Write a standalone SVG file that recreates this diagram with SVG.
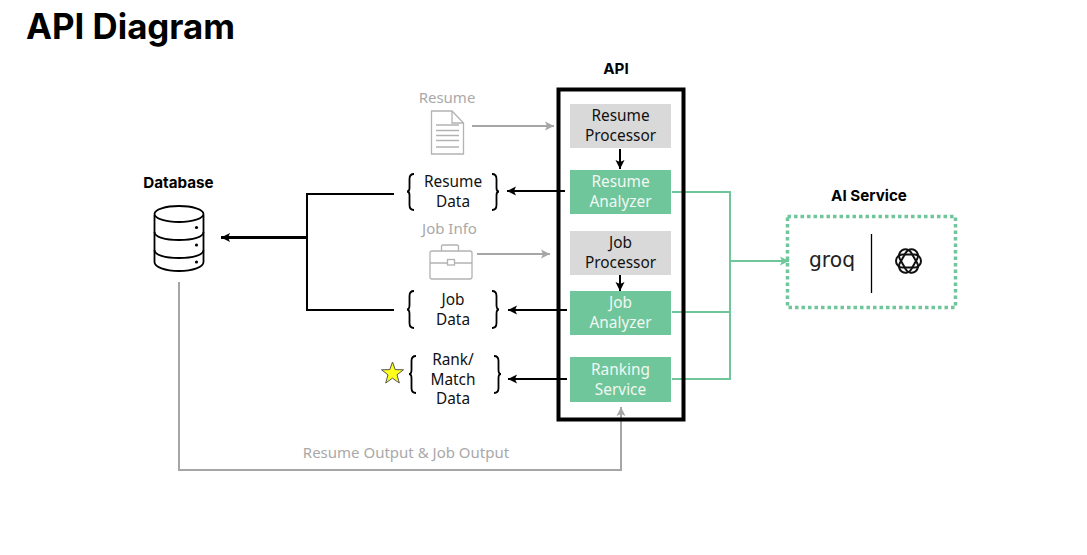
<svg xmlns="http://www.w3.org/2000/svg" width="1087" height="555" viewBox="0 0 1087 555">
<style>
text{font-family:"Noto Sans","Liberation Sans",sans-serif;font-size:15.4px;text-anchor:middle;fill:#111}
.h{font-weight:700;font-size:15.2px;fill:#000;font-family:Inter,"Liberation Sans",sans-serif}
.w{fill:#f2f7f3}.g{fill:#a9a9a9;font-size:15px}
.gray{fill:#d9d9d9}.green{fill:#6fc69a}
.k{stroke:#000;fill:none;stroke-width:2}
.gl{stroke:#a6a6a6;fill:none;stroke-width:2}
.gn{stroke:#6fc69a;fill:none;stroke-width:2}
.ic{stroke:#b3b3b3;fill:#fff;stroke-width:1.3}
.br{stroke:#000;fill:none;stroke-width:1.8}
</style>
<defs>
<marker id="ak" markerUnits="userSpaceOnUse" markerWidth="10" markerHeight="10" refX="9" refY="5" orient="auto"><path d="M0 0.500L9 5L0 9.500L2 5Z" fill="#000"/></marker>
<marker id="ag" markerUnits="userSpaceOnUse" markerWidth="10" markerHeight="10" refX="9" refY="5" orient="auto"><path d="M0 0.500L9 5L0 9.500L2 5Z" fill="#a6a6a6"/></marker>
<marker id="an" markerUnits="userSpaceOnUse" markerWidth="10" markerHeight="10" refX="9" refY="5" orient="auto"><path d="M0 0.500L9 5L0 9.500L2 5Z" fill="#6fc69a"/></marker>
</defs>
<rect width="1087" height="555" fill="#fff"/>
<text x="130.500" y="39" style="font-family:Inter,'Liberation Sans',sans-serif;font-weight:700;font-size:34.800px;fill:#000">API Diagram</text>

<g id="connectors">
<path class="k" d="M394 194H307V310H394"/>
<path class="k" d="M307 237.500H221" style="stroke-width:3" marker-end="url(#ak)"/>
<path class="gl" d="M179 282V470H621V407" marker-end="url(#ag)"/>
<path class="gl" d="M472 126H554" marker-end="url(#ag)"/>
<path class="gl" d="M477 254H550" marker-end="url(#ag)"/>
<path class="k" d="M620 149V169" marker-end="url(#ak)"/>
<path class="k" d="M620 272V291" marker-end="url(#ak)"/>
<path class="k" d="M565 191H507" marker-end="url(#ak)"/>
<path class="k" d="M567 310H508" marker-end="url(#ak)"/>
<path class="k" d="M567 379H508" marker-end="url(#ak)"/>
<path class="gn" d="M672 192H730V379H672M672 312H730M730 261H789" marker-end="url(#an)"/>
</g>

<g id="database">
<text class="h" x="178.500" y="188">Database</text>
<path d="M154.500 215V262C154.500 267 165 271 179 271S203.500 267 203.500 262V215" fill="#fff" stroke="#000" stroke-width="1.800"/>
<ellipse cx="179" cy="214" rx="24.500" ry="8" fill="#fff" stroke="#000" stroke-width="1.800"/>
<path class="br" d="M154.500 232C154.500 237 165 240 179 240S203.500 237 203.500 232M154.500 250C154.500 255 165 258 179 258S203.500 255 203.500 250"/>
<circle cx="196.500" cy="227.500" r="1.600"/><circle cx="196.500" cy="245" r="1.600"/><circle cx="196.500" cy="262" r="1.600"/>
</g>

<g id="resume-input">
<text class="g" x="447" y="103">Resume</text>
<path class="ic" d="M431.500 111H452L463.500 123V154H431.500Z"/>
<path class="ic" d="M452 111V123H463.500M436 125H459M436 130.500H459M436 135.500H459M436 140.500H459M436 147H459" style="fill:none"/>
</g>

<g id="job-input">
<text class="g" x="449.500" y="234">Job Info</text>
<path class="ic" d="M432 251H470Q472 251 472 253V277Q472 279 470 279H432Q430 279 430 277V253Q430 251 432 251ZM430 263H447M455 263H472M441.500 251V246Q441.500 245 443 245H457Q458.500 245 458.500 246V251"/>
<rect class="ic" x="447.500" y="259.500" width="7" height="5.500"/>
</g>

<g id="resume-data">
<path class="br" d="M414 174Q409.500 174 409.500 179V188Q409.500 191.500 407 191.500Q409.500 191.500 409.500 195V205Q409.500 210 414 210M492 174Q496.500 174 496.500 179V188Q496.500 191.500 499 191.500Q496.500 191.500 496.500 195V205Q496.500 210 492 210"/>
<text x="453" y="187">Resume</text><text x="453" y="207">Data</text>
</g>
<g id="job-data">
<path class="br" d="M414 291Q409.500 291 409.500 296V305Q409.500 309.500 407 309.500Q409.500 309.500 409.500 314V323Q409.500 328 414 328M492 291Q496.500 291 496.500 296V305Q496.500 309.500 499 309.500Q496.500 309.500 496.500 314V323Q496.500 328 492 328"/>
<text x="453" y="305">Job</text><text x="453" y="325">Data</text>
</g>
<g id="rank-data">
<polygon points="392.500,362 395.200,369.600 403.500,369.800 397,374.800 399.300,383 392.500,378.200 385.700,383 388,374.800 381.500,369.800 389.800,369.600" fill="#ffff1a" stroke="#555" stroke-width="1"/>
<path class="br" d="M416 356Q411.500 356 411.500 361V370Q411.500 374 409 374Q411.500 374 411.500 378V388Q411.500 393 416 393M494 356Q498.500 356 498.500 361V370Q498.500 374 501 374Q498.500 374 498.500 378V388Q498.500 393 494 393"/>
<text x="453" y="365">Rank/</text><text x="453" y="385">Match</text><text x="453" y="404">Data</text>
</g>

<g id="api">
<text class="h" x="616" y="74">API</text>
<rect x="558.500" y="89.500" width="125" height="330" fill="none" stroke="#000" stroke-width="4"/>
</g>
<g id="resume-processor"><rect class="gray" x="570" y="104" width="101" height="44"/><text x="620.500" y="121">Resume</text><text x="620.500" y="141">Processor</text></g>
<g id="resume-analyzer"><rect class="green" x="570" y="170" width="101" height="44"/><text class="w" x="620.500" y="187">Resume</text><text class="w" x="620.500" y="207">Analyzer</text></g>
<g id="job-processor"><rect class="gray" x="570" y="231" width="101" height="44"/><text x="620.500" y="248">Job</text><text x="620.500" y="268">Processor</text></g>
<g id="job-analyzer"><rect class="green" x="570" y="291" width="101" height="44"/><text class="w" x="620.500" y="308">Job</text><text class="w" x="620.500" y="328">Analyzer</text></g>
<g id="ranking-service"><rect class="green" x="570" y="357" width="101" height="45"/><text class="w" x="620.500" y="375">Ranking</text><text class="w" x="620.500" y="395">Service</text></g>

<text class="g" x="406" y="458">Resume Output &amp; Job Output</text>

<g id="ai-service">
<text class="h" x="869" y="201">AI Service</text>
<rect x="787.500" y="216.500" width="168" height="91" fill="none" stroke="#6fc69a" stroke-width="3.500" stroke-dasharray="3.500 3"/>
<text x="832" y="267" textLength="46" lengthAdjust="spacingAndGlyphs" style="font-size:21px;font-family:'DejaVu Sans',sans-serif;fill:#222">groq</text>
<path d="M871.500 234V293" stroke="#000" stroke-width="1.300"/>
<g fill="none" stroke="#111" stroke-width="2">
<rect x="896" y="254.500" width="25" height="13" rx="6.500"/>
<rect x="896" y="254.500" width="25" height="13" rx="6.500" transform="rotate(60 908.500 261)"/>
<rect x="896" y="254.500" width="25" height="13" rx="6.500" transform="rotate(120 908.500 261)"/>
</g>
</g>
</svg>
